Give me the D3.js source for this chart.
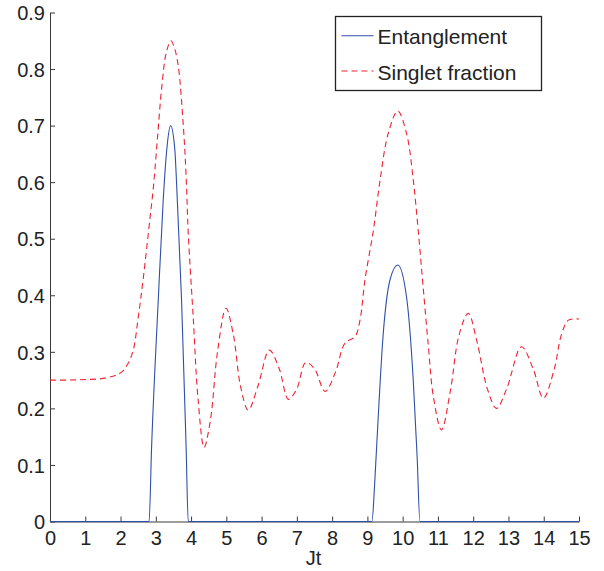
<!DOCTYPE html>
<html>
<head>
<meta charset="utf-8">
<script src="https://cdn.jsdelivr.net/npm/d3@7/dist/d3.min.js"></script>
<style>
  html, body { margin: 0; padding: 0; background: #fff; }
  svg { display: block; font-family: "Liberation Sans", Arial, Helvetica, sans-serif; }
</style>
</head>
<body>
<svg id="chart" width="604" height="571"></svg>
<script>
// Time axis (Jt) sample points and the two quantities
const singletT = [0, 0.5, 1.0, 1.5, 1.98, 2.2, 2.36, 2.5, 2.65, 2.84, 2.93, 3.05, 3.17, 3.3, 3.43, 3.54, 3.64, 3.78, 3.86, 3.92, 4.06, 4.2, 4.37, 4.55, 4.75, 4.99, 5.2, 5.4, 5.62, 5.9, 6.22, 6.5, 6.76, 7.0, 7.25, 7.5, 7.8, 8.1, 8.36, 8.65, 8.79, 8.93, 9.17, 9.36, 9.59, 9.86, 10.11, 10.3, 10.44, 10.58, 10.73, 10.87, 11.1, 11.35, 11.6, 11.86, 12.1, 12.4, 12.66, 12.95, 13.37, 13.7, 13.99, 14.3, 14.5, 14.7, 15.0];
const singletFraction = [0.25, 0.25, 0.251, 0.253, 0.262, 0.278, 0.303, 0.36, 0.433, 0.539, 0.59, 0.68, 0.769, 0.83, 0.85, 0.835, 0.804, 0.70, 0.61, 0.51, 0.362, 0.215, 0.131, 0.18, 0.30, 0.377, 0.33, 0.24, 0.197, 0.24, 0.303, 0.27, 0.216, 0.235, 0.281, 0.27, 0.23, 0.265, 0.315, 0.327, 0.356, 0.427, 0.515, 0.604, 0.686, 0.726, 0.686, 0.604, 0.515, 0.415, 0.309, 0.221, 0.162, 0.23, 0.33, 0.368, 0.32, 0.235, 0.20, 0.235, 0.309, 0.27, 0.218, 0.27, 0.33, 0.356, 0.358];

const entT = [0, 2.81, 2.88, 3.07, 3.21, 3.31, 3.42, 3.54, 3.61, 3.73, 3.86, 3.92, 9.13, 9.2, 9.26, 9.45, 9.64, 9.86, 10.11, 10.3, 10.41, 10.49, 15.0];
const entanglement = [0, 0, 0.13, 0.392, 0.568, 0.657, 0.70, 0.657, 0.568, 0.392, 0.13, 0, 0, 0.06, 0.13, 0.333, 0.427, 0.4535, 0.397, 0.25, 0.115, 0, 0];

const xTicks = d3.range(0, 16, 1);
const yTicks = [0, 0.1, 0.2, 0.3, 0.4, 0.5, 0.6, 0.7, 0.8, 0.9];
const seriesNames = ["Entanglement", "Singlet fraction"];

const svg = d3.select("#chart");
const x = d3.scaleLinear().domain([0, 15]).range([50, 579]);
const y = d3.scaleLinear().domain([0, 0.9]).range([521.5, 12.5]);

const axisColor = "#3a3a3a";
const textColor = "#222";

// Curves
const entLine = d3.line()
  .x((d, i) => x(entT[i]))
  .y(d => y(d))
  .curve(d3.curveMonotoneX);

const sfLine = d3.line()
  .x((d, i) => x(singletT[i]))
  .y(d => y(d))
  .curve(d3.curveCatmullRom.alpha(0.5));

// Axes: left and bottom, ticks pointing inward
const xAxis = d3.axisBottom(x).tickValues(xTicks).tickSizeInner(-5).tickSizeOuter(0).tickFormat(d3.format("d"));
const yAxis = d3.axisLeft(y).tickValues(yTicks).tickSizeInner(-5).tickSizeOuter(0)
  .tickFormat(d => d === 0 ? "0" : d3.format(".1f")(d));

const gx = svg.append("g").attr("transform", "translate(0,521.5)").call(xAxis);
const gy = svg.append("g").attr("transform", "translate(50,0)").call(yAxis);

[gx, gy].forEach(g => {
  g.select(".domain").attr("stroke", axisColor).attr("stroke-width", 1);
  g.selectAll(".tick line").attr("stroke", axisColor).attr("stroke-width", 1);
  g.selectAll(".tick text").attr("fill", textColor).attr("font-size", 20)
    .attr("font-family", "'Liberation Sans', Arial, Helvetica, sans-serif");
});
gx.selectAll(".tick text").attr("dy", null).attr("y", 23.5);
gy.selectAll(".tick text").attr("x", -5).attr("dy", "0.36em");

// Data lines
svg.append("path")
  .attr("d", sfLine(singletFraction))
  .attr("fill", "none")
  .attr("stroke", "#ee2233")
  .attr("stroke-width", 1.1)
  .attr("stroke-dasharray", "6,4");

svg.append("path")
  .attr("d", entLine(entanglement))
  .attr("fill", "none")
  .attr("stroke", "#2f4fa8")
  .attr("stroke-width", 1.1);

// X axis title
svg.append("text")
  .attr("x", 313.5).attr("y", 565)
  .attr("text-anchor", "middle")
  .attr("font-size", 20)
  .attr("fill", textColor)
  .text("Jt");

// Legend
const legend = svg.append("g");
legend.append("rect")
  .attr("x", 335.5).attr("y", 16.5).attr("width", 206).attr("height", 74)
  .attr("fill", "#fff").attr("stroke", "#222").attr("stroke-width", 1.3);

const legendRows = [
  { name: seriesNames[0], color: "#2f4fa8", dash: null, yLine: 35.7, yText: 44.3 },
  { name: seriesNames[1], color: "#ee2233", dash: "6,4", yLine: 71, yText: 79.5 }
];
legendRows.forEach(r => {
  legend.append("line")
    .attr("x1", 341.5).attr("x2", 373.5)
    .attr("y1", r.yLine).attr("y2", r.yLine)
    .attr("stroke", r.color).attr("stroke-width", 1.1)
    .attr("stroke-dasharray", r.dash);
  legend.append("text")
    .attr("x", 377.5).attr("y", r.yText)
    .attr("font-size", 21)
    .attr("fill", textColor)
    .text(r.name);
});
</script>
</body>
</html>
